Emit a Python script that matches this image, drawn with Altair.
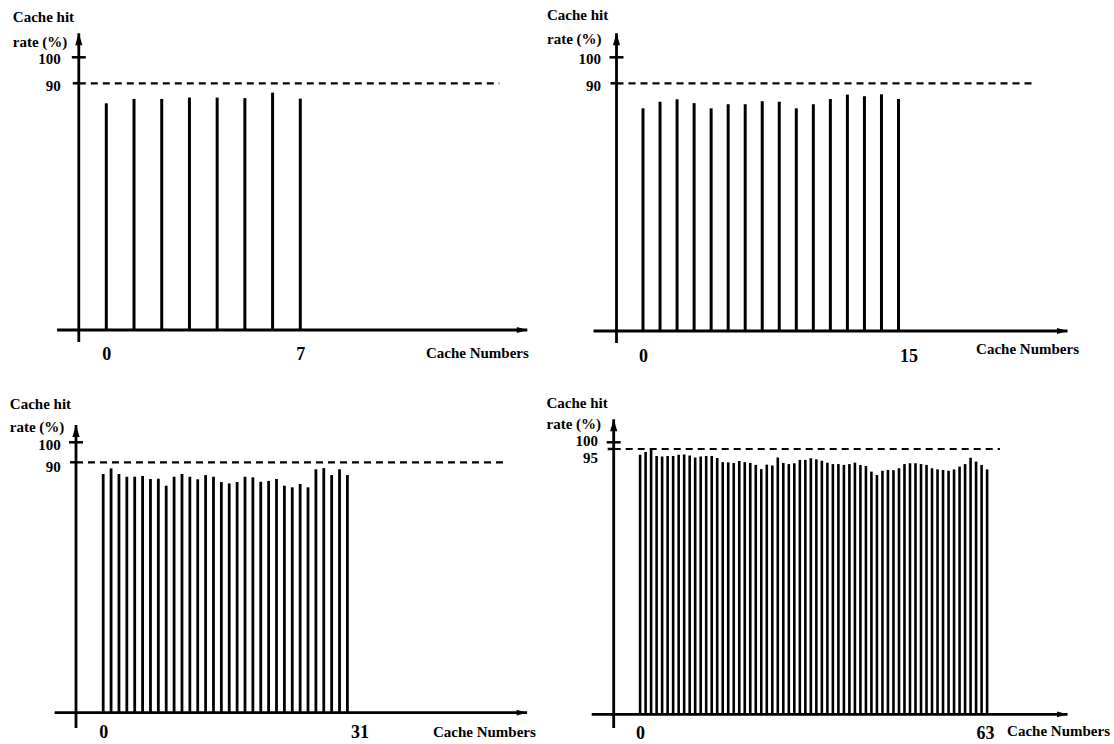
import altair as alt
import pandas as pd

# ------------------------------------------------------------------ data
hit_rate_8 = [82.7, 84.3, 84.3, 84.8, 84.8, 84.6, 86.6, 84.4]
hit_rate_16 = [80.9, 83.3, 84.2, 82.8, 80.9, 82.4, 82.4, 83.5,
               83.3, 80.9, 82.4, 84.3, 85.9, 85.3, 86.0, 84.3]
hit_rate_32 = [85.8, 87.8, 85.8, 84.8, 84.8, 85.1, 84.0, 84.1,
               81.6, 84.8, 85.8, 84.8, 83.9, 85.4, 84.8, 82.9,
               82.4, 82.9, 84.8, 84.6, 83.0, 83.3, 84.0, 81.6,
               81.0, 82.2, 81.0, 87.5, 87.9, 85.4, 87.5, 85.4]
hit_rate_64 = [92.9, 93.9, 95.0, 92.5, 92.3, 92.5, 92.5, 92.9,
               93.0, 92.7, 92.0, 92.3, 92.5, 92.5, 91.8, 90.3,
               90.2, 90.0, 90.7, 90.3, 90.0, 89.3, 87.8, 89.4,
               89.1, 92.0, 90.0, 89.6, 89.9, 91.1, 91.1, 91.7,
               91.3, 90.8, 90.1, 89.6, 89.6, 89.3, 89.6, 90.1,
               89.3, 88.9, 86.9, 85.7, 87.2, 87.5, 87.4, 88.1,
               89.6, 89.9, 89.9, 89.6, 89.3, 88.1, 87.7, 87.5,
               87.2, 87.7, 88.7, 89.6, 91.9, 90.5, 89.3, 87.7]
hit_rates = [hit_rate_8, hit_rate_16, hit_rate_32, hit_rate_64]
reference_levels = [90, 90, 90, 95]
top_level = 100
x_tick_values = [[0, 7], [0, 15], [0, 31], [0, 63]]
y_title_lines = ["Cache hit", "rate (%)"]
x_title = "Cache Numbers"

# ------------------------------------------------------------------ layout (pixels)
COL_X = [75.7, 613.2]
ROW_Y = [33.0, 419.3]
LAYOUT = [
    dict(col=0, row=0, yaxis=78.5, bar0=106.0, barN=300.0, arrow=527.0, xstart=56.8, dash_end=499.0,
         base=330.0, tip=33.3, yref=83.3, y100=57.3, ybottom=342.0,
         t_left=12.0, t_c1=16.5, t_c2=41.0, xt_right=528.0, xt_c=352.0,
         xl_c=353.0, xl_last_dx=0.0, yl_right=60.0, yl_ref_c=85.0, yl_100_c=58.5, bar_w=3.0),
    dict(col=1, row=0, yaxis=616.0, bar0=642.5, barN=898.0, arrow=1067.0, xstart=593.0, dash_end=1034.0,
         base=331.0, tip=33.3, yref=83.3, y100=57.3, ybottom=343.0,
         t_left=546.0, t_c1=14.0, t_c2=38.0, xt_right=1078.0, xt_c=348.0,
         xl_c=355.0, xl_last_dx=10.0, yl_right=600.0, yl_ref_c=85.0, yl_100_c=58.0, bar_w=3.0),
    dict(col=0, row=1, yaxis=75.7, bar0=102.9, barN=347.1, arrow=526.8, xstart=54.3, dash_end=507.0,
         base=712.7, tip=425.0, yref=462.3, y100=442.3, ybottom=728.0,
         t_left=9.0, t_c1=403.0, t_c2=426.0, xt_right=535.0, xt_c=732.0,
         xl_c=732.0, xl_last_dx=12.0, yl_right=60.0, yl_ref_c=466.0, yl_100_c=444.0, bar_w=2.8),
    dict(col=1, row=1, yaxis=613.2, bar0=639.6, barN=986.6, arrow=1067.0, xstart=591.2, dash_end=999.4,
         base=714.3, tip=419.3, yref=449.0, y100=442.3, ybottom=728.0,
         t_left=545.5, t_c1=402.0, t_c2=423.0, xt_right=1109.0, xt_c=730.0,
         xl_c=732.0, xl_last_dx=-2.0, yl_right=597.0, yl_ref_c=457.5, yl_100_c=440.0, bar_w=2.6),
]

BLACK = "#000000"
FONT = "Liberation Serif"
AXIS_W = 2.8


def build_panel(values, ref, xticks, g):
    n = len(values)
    left = COL_X[g["col"]]
    top = ROW_Y[g["row"]]
    W = g["arrow"] - left
    H = g["base"] - top
    sp = (g["barN"] - g["bar0"]) / (n - 1)

    def xv(p):
        return (p - g["bar0"]) / sp

    r0, rref, r100 = H, g["yref"] - top, g["y100"] - top
    lo = (r0 - rref) / ref
    hi = (rref - r100) / (top_level - ref)

    def yv(p):
        r = p - top
        if r >= rref:
            return (r0 - r) / lo
        return ref + (rref - r) / hi

    xscale = alt.Scale(domain=[xv(left), xv(g["arrow"])], range=[0, W], nice=False, zero=False)
    yscale = alt.Scale(domain=[0, ref, top_level], range=[r0, rref, r100], nice=False, zero=False)

    xaxis = alt.Axis(
        values=xticks, format="d", domain=False, ticks=False, grid=False,
        labelFont=FONT, labelFontSize=18, labelFontWeight="bold", labelColor=BLACK,
        labelPadding=g["xl_c"] - g["base"] - 8, labelFlush=False, labelOverlap=False,
        labelOffset={"condition": {"test": "datum.value > 0", "value": g["xl_last_dx"]}, "value": 0},
        title=x_title, titleX=g["xt_right"] - left, titleY=g["xt_c"] - g["base"],
        titleAlign="right", titleBaseline="middle", titleAngle=0,
        titleFont=FONT, titleFontSize=15, titleFontWeight="bold", titleColor=BLACK,
    )
    yaxis = alt.Axis(
        values=[ref, top_level], domain=False, ticks=False, grid=False,
        labelFont=FONT, labelFontSize=15, labelFontWeight="bold", labelColor=BLACK,
        labelPadding=left - g["yl_right"], labelFlush=False, labelOverlap=False,
        labelOffset={"condition": {"test": "datum.value < %d" % top_level,
                                   "value": g["yl_ref_c"] - g["yref"]},
                     "value": g["yl_100_c"] - g["y100"]},
        title=y_title_lines, titleX=g["t_left"] - left, titleY=g["t_c1"] - 7 - top,
        titleAlign="left", titleBaseline="top", titleAngle=0,
        titleLineHeight=g["t_c2"] - g["t_c1"],
        titleFont=FONT, titleFontSize=15, titleFontWeight="bold", titleColor=BLACK,
    )

    def X(f):
        return alt.X(f, type="quantitative", scale=xscale, axis=xaxis)

    def Y(f):
        return alt.Y(f, type="quantitative", scale=yscale, axis=yaxis)

    bars_df = pd.DataFrame({"cache": list(range(n)), "rate": values})
    bars = alt.Chart(bars_df).mark_rule(color=BLACK, strokeWidth=g["bar_w"]).encode(
        x=X("cache"), y=Y("rate"), y2=alt.datum(0)
    )

    ya = xv(g["yaxis"])
    axes_df = pd.DataFrame({
        "cache": [xv(g["xstart"]), ya],
        "x2": [xv(g["arrow"]), ya],
        "rate": [0.0, yv(g["ybottom"])],
        "y2": [0.0, yv(g["tip"])],
    })
    axes = alt.Chart(axes_df).mark_rule(color=BLACK, strokeWidth=AXIS_W).encode(
        x=X("cache"), x2="x2", y=Y("rate"), y2="y2"
    )

    dash_df = pd.DataFrame({"cache": [ya], "x2": [xv(g["dash_end"])], "rate": [ref]})
    dash = alt.Chart(dash_df).mark_rule(color=BLACK, strokeWidth=2.2, strokeDash=[7, 5]).encode(
        x=X("cache"), x2="x2", y=Y("rate")
    )

    up_df = pd.DataFrame({"cache": [ya], "rate": [yv(g["tip"])]})
    up = alt.Chart(up_df).mark_point(shape="M0,0L0.6,2L-0.6,2Z", size=144, filled=True,
                                     color=BLACK, opacity=1, strokeWidth=0).encode(x=X("cache"), y=Y("rate"))

    right_df = pd.DataFrame({"cache": [xv(g["arrow"])], "rate": [0.0]})
    right = alt.Chart(right_df).mark_point(shape="M0,0L-2,-0.55L-2,0.55Z", size=110, filled=True,
                                           color=BLACK, opacity=1, strokeWidth=0).encode(x=X("cache"), y=Y("rate"))

    cross_df = pd.DataFrame({"cache": [ya], "rate": [top_level]})
    cross = alt.Chart(cross_df).mark_point(shape="M-1,0L1,0", size=196, filled=False,
                                           color=BLACK, opacity=1, strokeWidth=2.5).encode(x=X("cache"), y=Y("rate"))

    stub_df = pd.DataFrame({"cache": [ya], "rate": [ref]})
    stub = alt.Chart(stub_df).mark_point(shape="M-1,0L0,0", size=144, filled=False,
                                         color=BLACK, opacity=1, strokeWidth=2.5).encode(x=X("cache"), y=Y("rate"))

    return alt.layer(bars, axes, dash, up, right, cross, stub).properties(width=W, height=H)


panels = [build_panel(hit_rates[i], reference_levels[i], x_tick_values[i], LAYOUT[i]) for i in range(4)]

widths = [g["arrow"] - COL_X[g["col"]] for g in LAYOUT]
heights = [g["base"] - ROW_Y[g["row"]] for g in LAYOUT]
col_sp = COL_X[1] - COL_X[0] - max(widths)
row_sp = ROW_Y[1] - ROW_Y[0] - max(heights)
pad_left = min(g["t_left"] for g in LAYOUT)
pad_top = min(g["t_c1"] - 7 for g in LAYOUT)

chart = alt.concat(
    *panels, columns=2, spacing={"row": row_sp, "column": col_sp}, bounds="flush", align="all"
).properties(
    padding={"left": pad_left, "top": pad_top, "right": 2, "bottom": 2}, background="white"
).configure_view(stroke=None)

chart.save("out.html", embed_options={"renderer": "svg", "actions": False})
